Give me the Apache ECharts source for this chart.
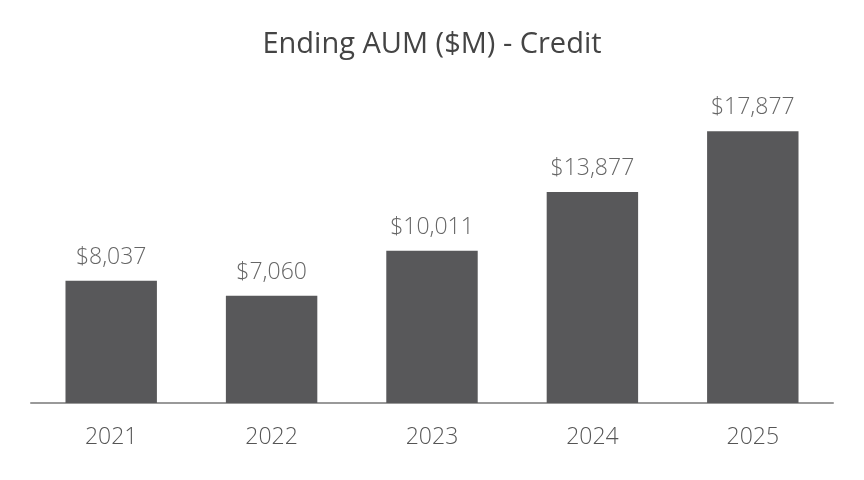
<!DOCTYPE html>
<html>
<head>
<meta charset="utf-8">
<script src="https://cdn.jsdelivr.net/npm/echarts@6/dist/echarts.min.js"></script>
<style>
  html, body { margin: 0; padding: 0; background: #fff; }
  #chart { width: 864px; height: 480px; }
</style>
</head>
<body>
<div id="chart"></div>
<script>
// Ending AUM - Credit
var years = ['2021', '2022', '2023', '2024', '2025'];
var aum = [8037, 7060, 10011, 13877, 17877];

var chart = echarts.init(document.getElementById('chart'), null, {renderer: 'canvas'});

var option = {
    backgroundColor: '#fff',
    animation: false,
    title: {
        text: 'Ending AUM ($M) - Credit',
        left: 'center',
        top: 25,
        textStyle: {
            fontFamily: 'Open Sans',
            fontWeight: 'normal',
            fontSize: 29,
            color: '#444'
        }
    },
    grid: {
        left: 31,
        right: 31,
        top: 99,
        bottom: 77,
        containLabel: false
    },
    xAxis: {
        type: 'category',
        data: years,
        axisLine: {lineStyle: {color: '#999', width: 2}},
        axisTick: {show: false},
        axisLabel: {
            margin: 23,
            fontFamily: 'Open Sans',
            fontWeight: 300,
            fontSize: 23,
            color: '#555'
        }
    },
    yAxis: {
        type: 'value',
        min: 0,
        max: 20000,
        show: false,
        splitLine: {show: false}
    },
    series: [{
        type: 'bar',
        data: aum,
        barWidth: '57%',
        itemStyle: {color: '#58585a'},
        label: {
            show: true,
            position: 'top',
            distance: 12,
            fontFamily: 'Open Sans',
            fontWeight: 300,
            fontSize: 23,
            color: '#666',
            formatter: function (p) {
                return '$' + p.value.toLocaleString('en-US');
            }
        }
    }]
};
chart.setOption(option);
</script>
</body>
</html>
